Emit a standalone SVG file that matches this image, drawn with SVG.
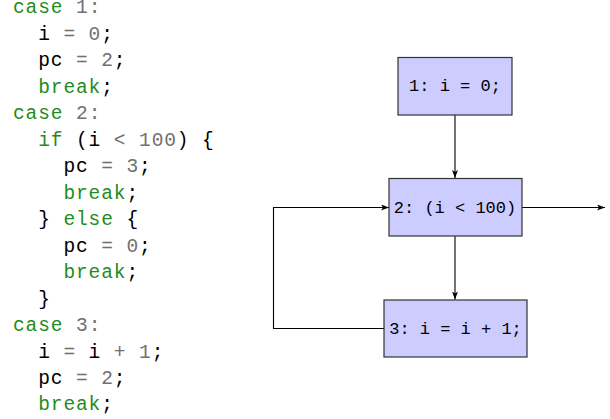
<svg xmlns="http://www.w3.org/2000/svg" width="610" height="419" viewBox="0 0 610 419">
<defs>
<style>
.code text{font-family:"Liberation Mono","Courier New",monospace;font-size:19.5px;letter-spacing:0.9px;fill:#000;white-space:pre}
.k{fill:#1f8c1f}
.g{fill:#707070}
.node rect{fill:#ccccff;stroke:#333;stroke-width:1.2}
.node text{font-family:"Liberation Mono","Courier New",monospace;font-size:17px;fill:#000;text-anchor:middle}
.edge{fill:none;stroke:#000;stroke-width:1.1}
</style>
<marker id="arr" viewBox="0 0 8 6" refX="8" refY="3" markerWidth="8" markerHeight="6" markerUnits="userSpaceOnUse" orient="auto">
<path d="M0,0 L8,3 L0,6 L2,3 z" fill="#000"/>
</marker>
</defs>
<rect width="610" height="419" fill="#fff"/>
<g id="code" class="code" xml:space="preserve">
<text x="13" y="13"><tspan class="k">case</tspan><tspan class="g"> 1:</tspan></text>
<text x="38.2" y="39.5">i<tspan class="g"> = 0</tspan>;</text>
<text x="38.2" y="66">pc<tspan class="g"> = 2</tspan>;</text>
<text x="38.2" y="92.5"><tspan class="k">break</tspan>;</text>
<text x="13" y="119"><tspan class="k">case</tspan><tspan class="g"> 2:</tspan></text>
<text x="38.2" y="145.5"><tspan class="k">if</tspan> (i <tspan class="g">&lt; 100</tspan>) {</text>
<text x="63.4" y="172">pc<tspan class="g"> = 3</tspan>;</text>
<text x="63.4" y="198.5"><tspan class="k">break</tspan>;</text>
<text x="38.2" y="225">} <tspan class="k">else</tspan> {</text>
<text x="63.4" y="251.5">pc<tspan class="g"> = 0</tspan>;</text>
<text x="63.4" y="278"><tspan class="k">break</tspan>;</text>
<text x="38.2" y="304.5">}</text>
<text x="13" y="331"><tspan class="k">case</tspan><tspan class="g"> 3:</tspan></text>
<text x="38.2" y="357.5">i<tspan class="g"> = </tspan>i<tspan class="g"> + 1</tspan>;</text>
<text x="38.2" y="384">pc<tspan class="g"> = 2</tspan>;</text>
<text x="38.2" y="410"><tspan class="k">break</tspan>;</text>
</g>
<g id="connectors">
<path class="edge" d="M455,115 L455,178" marker-end="url(#arr)"/>
<path class="edge" d="M455,236 L455,299.5" marker-end="url(#arr)"/>
<path class="edge" d="M384,328.5 L273.5,328.5 L273.5,207.5 L389,207.5" marker-end="url(#arr)"/>
<path class="edge" d="M522,207.5 L605,207.5" marker-end="url(#arr)"/>
</g>
<g id="n1" class="node"><rect x="398" y="57.5" width="114" height="57.5"/><text x="455" y="91">1: i = 0;</text></g>
<g id="n2" class="node"><rect x="389" y="178.5" width="133" height="57.5"/><text x="455" y="212.5">2: (i &lt; 100)</text></g>
<g id="n3" class="node"><rect x="384" y="300" width="143" height="57"/><text x="455.5" y="334">3: i = i + 1;</text></g>
</svg>
